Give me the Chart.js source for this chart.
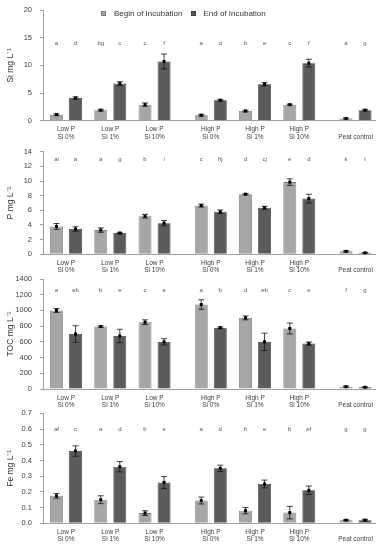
<!DOCTYPE html>
<html>
<head>
<meta charset="utf-8">
<script src="https://cdn.jsdelivr.net/npm/chart.js@4.4.1/dist/chart.umd.min.js"></script>
<style>
html, body { margin: 0; padding: 0; background: #fff; }
body { width: 383px; height: 550px; position: relative; overflow: hidden; font-family: "Liberation Sans", Arial, sans-serif; }
.panel { position: absolute; left: 0; width: 383px; }
.legend { position: absolute; top: 9px; left: 101px; font-size: 8px; color: #333; display: flex; align-items: center; white-space: nowrap; z-index: 2; }
.legend i { display: inline-block; width: 5px; height: 5px; margin-right: 8px; box-sizing: border-box; }
.legend span { margin-right: 8px; }
</style>
</head>
<body>
<div class="legend" id="legend"></div>
<div class="panel" id="p0"><canvas id="c0"></canvas></div>
<div class="panel" id="p1"><canvas id="c1"></canvas></div>
<div class="panel" id="p2"><canvas id="c2"></canvas></div>
<div class="panel" id="p3"><canvas id="c3"></canvas></div>
<script>
// treatments on the x axis
const groupLabels = [['Low P', 'Si 0%'], ['Low P', 'Si 1%'], ['Low P', 'Si 10%'],
                     ['High P', 'Si 0%'], ['High P', 'Si 1%'], ['High P', 'Si 10%'],
                     ['', 'Peat control']];
const groupBlock = [0, 0, 0, 1, 1, 1, 2];
const seriesNames = ['Begin of Incubation', 'End of Incubation'];

// Si
const siBegin    = [1.1, 1.9, 2.9, 1.0, 1.75, 2.9, 0.4];
const siBeginErr = [0.15, 0.15, 0.3, 0.15, 0.15, 0.1, 0.1];
const siEnd      = [4.1, 6.7, 10.7, 3.7, 6.6, 10.4, 1.9];
const siEndErr   = [0.2, 0.35, 1.35, 0.15, 0.3, 0.7, 0.15];
const siLetters  = [['a', 'd'], ['bg', 'c'], ['c', 'f'], ['a', 'd'], ['b', 'e'], ['c', 'f'], ['a', 'g']];

// P
const pBegin    = [3.8, 3.3, 5.2, 6.65, 8.2, 9.85, 0.4];
const pBeginErr = [0.4, 0.3, 0.25, 0.2, 0.1, 0.45, 0.1];
const pEnd      = [3.45, 2.9, 4.25, 5.8, 6.35, 7.6, 0.2];
const pEndErr   = [0.3, 0.1, 0.35, 0.25, 0.2, 0.6, 0.05];
const pLetters  = [['ai', 'a'], ['a', 'g'], ['b', 'i'], ['c', 'hj'], ['d', 'cj'], ['e', 'd'], ['k', 'l']];

// TOC
const tocBegin    = [1000, 795, 850, 1075, 905, 770, 30];
const tocBeginErr = [25, 10, 30, 60, 25, 70, 8];
const tocEnd      = [700, 675, 600, 780, 600, 578, 22];
const tocEndErr   = [105, 85, 40, 10, 110, 20, 6];
const tocLetters  = [['a', 'eb'], ['b', 'e'], ['c', 'e'], ['a', 'b'], ['d', 'eb'], ['c', 'e'], ['f', 'g']];

// Fe
const feBegin    = [0.175, 0.15, 0.065, 0.145, 0.08, 0.068, 0.02];
const feBeginErr = [0.015, 0.025, 0.015, 0.022, 0.02, 0.04, 0.003];
const feEnd      = [0.46, 0.36, 0.26, 0.35, 0.25, 0.21, 0.02];
const feEndErr   = [0.033, 0.033, 0.038, 0.02, 0.025, 0.027, 0.005];
const feLetters  = [['af', 'c'], ['a', 'd'], ['b', 'e'], ['a', 'd'], ['b', 'e'], ['b', 'ef'], ['g', 'g']];

// extra space between Low P / High P / control blocks
const BLOCK_GAP = 0.27;
const xPos = groupLabels.map((g, i) => i + groupBlock[i] * BLOCK_GAP);

const colors = ['#a6a6a6', '#5b5b5b'];
const borders = ['#7c7c7c', '#3f3f3f'];
const textColor = '#404040';

const panels = [
    { title: 'Si mg L⁻¹',  begin: siBegin,  beginErr: siBeginErr,  end: siEnd,  endErr: siEndErr,  letters: siLetters,  max: 20,   step: 5,   letterY: 14,   top: 0,   h: 142, cTop: 10,   cBottom: 120.7 },
    { title: 'P mg L⁻¹',   begin: pBegin,   beginErr: pBeginErr,   end: pEnd,   endErr: pEndErr,   letters: pLetters,   max: 14,   step: 2,   letterY: 13,   top: 136, h: 140, cTop: 15.7, cBottom: 118.3 },
    { title: 'TOC mg L⁻¹', begin: tocBegin, beginErr: tocBeginErr, end: tocEnd, endErr: tocEndErr, letters: tocLetters, max: 1400, step: 200, letterY: 1260, top: 270, h: 140, cTop: 9,    cBottom: 119 },
    { title: 'Fe mg L⁻¹',  begin: feBegin,  beginErr: feBeginErr,  end: feEnd,  endErr: feEndErr,  letters: feLetters,  max: 0.7,  step: 0.1, letterY: 0.6,  top: 404, h: 146, cTop: 9.3,  cBottom: 119.3, fixed: 1 }
];

// error bars, mean markers and significance letters
const overlay = {
    id: 'overlay',
    afterDatasetsDraw(chart, args, opts) {
        const ctx = chart.ctx;
        const y = chart.scales.y;
        ctx.save();
        chart.data.datasets.forEach((ds, di) => {
            const meta = chart.getDatasetMeta(di);
            meta.data.forEach((bar, i) => {
                const v = ds.data[i].y;
                const e = ds.errors[i];
                const yTop = y.getPixelForValue(v + e);
                const yBot = y.getPixelForValue(Math.max(v - e, 0));
                ctx.strokeStyle = '#111';
                ctx.lineWidth = 0.8;
                ctx.beginPath();
                ctx.moveTo(bar.x, yTop); ctx.lineTo(bar.x, yBot);
                ctx.moveTo(bar.x - 3, yTop); ctx.lineTo(bar.x + 3, yTop);
                ctx.moveTo(bar.x - 3, yBot); ctx.lineTo(bar.x + 3, yBot);
                ctx.stroke();
                ctx.fillStyle = '#000';
                const ym = y.getPixelForValue(v);
                ctx.fillRect(bar.x - 1.5, ym - 1.5, 3, 3);

                ctx.fillStyle = '#555';
                ctx.font = '6px "Liberation Sans", Arial, sans-serif';
                ctx.textAlign = 'center';
                ctx.textBaseline = 'middle';
                ctx.fillText(opts.letters[i][di], bar.x, y.getPixelForValue(opts.letterY));
            });
        });
        ctx.restore();
    }
};

function makeChart(p, idx) {
    const div = document.getElementById('p' + idx);
    div.style.top = p.top + 'px';
    div.style.height = p.h + 'px';

    const series = [p.begin, p.end];
    const errs = [p.beginErr, p.endErr];

    return new Chart(document.getElementById('c' + idx), {
        type: 'bar',
        data: {
            datasets: series.map((vals, s) => ({
                label: seriesNames[s],
                data: vals.map((v, i) => ({ x: xPos[i], y: v })),
                errors: errs[s],
                backgroundColor: colors[s],
                borderColor: borders[s],
                borderWidth: 0.8,
                categoryPercentage: 0.86,
                barPercentage: 0.68
            }))
        },
        plugins: [overlay],
        options: {
            animation: false,
            responsive: true,
            maintainAspectRatio: false,
            layout: { padding: { top: p.cTop, right: 8, left: 0, bottom: 0 } },
            plugins: {
                legend: { display: false },
                tooltip: { enabled: false },
                overlay: { letters: p.letters, letterY: p.letterY }
            },
            scales: {
                x: {
                    type: 'linear',
                    offset: false,
                    min: -0.52,
                    max: 6.98,
                    grid: { display: false, drawTicks: false },
                    border: { display: true, color: '#a0a0a0', width: 1 },
                    afterBuildTicks: axis => { axis.ticks = xPos.map(v => ({ value: v })); },
                    afterFit: s => { s.height = p.h - p.cBottom; },
                    ticks: {
                        autoSkip: false,
                        maxRotation: 0,
                        padding: 5,
                        color: textColor,
                        font: { size: 6.5, family: '"Liberation Sans", Arial, sans-serif', lineHeight: 1.15 },
                        callback: (v, i) => groupLabels[i]
                    }
                },
                y: {
                    min: 0,
                    max: p.max,
                    grid: { display: true, drawOnChartArea: false, drawTicks: true, tickLength: 3, color: '#a0a0a0' },
                    border: { display: true, color: '#a0a0a0', width: 1 },
                    afterFit: s => { s.width = 43; s.paddingTop = 0; s.paddingBottom = 0; },
                    ticks: {
                        stepSize: p.step,
                        padding: 8,
                        color: textColor,
                        font: { size: 7.5, family: '"Liberation Sans", Arial, sans-serif' },
                        callback: v => p.fixed ? v.toFixed(p.fixed) : v
                    },
                    title: {
                        display: true,
                        text: p.title,
                        color: '#333',
                        padding: { top: 6, bottom: 0 },
                        font: { size: 8.5, family: '"Liberation Sans", Arial, sans-serif' }
                    }
                }
            }
        }
    });
}

panels.forEach(makeChart);

// legend for the first panel
const legend = document.getElementById('legend');
seriesNames.forEach((name, s) => {
    const box = document.createElement('i');
    box.style.background = colors[s];
    box.style.border = '0.5px solid ' + borders[s];
    const label = document.createElement('span');
    label.textContent = name;
    legend.appendChild(box);
    legend.appendChild(label);
});
</script>
</body>
</html>
